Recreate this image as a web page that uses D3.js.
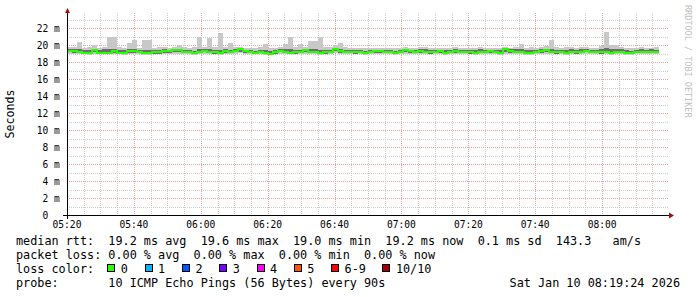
<!DOCTYPE html>
<html>
<head>
<meta charset="utf-8">
<script src="https://cdn.jsdelivr.net/npm/d3@7"></script>
<style>
  body { margin: 0; background: #fff; }
  svg text { font-family: "DejaVu Sans Mono", monospace; fill: #000; white-space: pre; }
</style>
</head>
<body>
<div id="chart"></div>
<script>
// one step = 90 s, first step at 05:20
const stepSec = 90;
const startTime = new Date(2026, 0, 10, 5, 20, 0);
const endTime = new Date(2026, 0, 10, 8, 20, 0);

// median rtt per step (ms)
const medRtt = [
  19.30,19.30,19.20,19.10,19.10,19.40,19.10,19.10,19.10,19.35,
  19.10,19.10,19.30,19.30,19.20,19.05,19.05,19.15,19.15,19.30,
  19.30,19.40,19.40,19.25,19.20,19.10,19.20,19.35,19.25,19.15,
  19.05,19.30,19.20,19.35,19.50,19.30,19.20,19.10,19.20,19.10,
  19.00,19.15,19.35,19.25,19.10,19.15,19.20,19.40,19.20,19.20,
  19.10,19.15,19.20,19.60,19.30,19.20,19.25,19.15,19.20,19.10,
  19.20,19.30,19.30,19.20,19.20,19.10,19.25,19.45,19.30,19.25,
  19.30,19.20,19.15,19.25,19.30,19.10,19.20,19.30,19.25,19.20,
  19.15,19.10,19.20,19.25,19.30,19.20,19.10,19.50,19.30,19.20,
  19.25,19.10,19.05,19.25,19.30,19.40,19.20,19.15,19.25,19.10,
  19.20,19.15,19.25,19.35,19.20,19.20,19.15,19.20,19.10,19.25,
  19.20,19.10,19.05,19.20,19.25,19.20,19.25,19.20
];
// fastest ping per step (ms)
const pingLo = [
  18.95,18.95,18.95,18.95,18.90,19.00,18.95,18.95,18.95,18.95,
  18.95,18.90,18.95,19.00,18.95,18.90,18.90,18.95,18.95,18.95,
  19.00,19.00,19.00,18.95,18.95,18.90,18.95,19.00,18.95,18.95,
  18.90,18.95,18.95,19.00,19.05,18.95,18.95,18.95,18.95,18.90,
  18.90,18.95,19.00,18.95,18.95,18.95,18.95,19.00,18.95,18.95,
  18.90,18.95,18.95,19.05,18.95,18.95,18.95,18.95,18.95,18.90,
  18.95,19.00,18.95,18.95,18.95,18.90,18.95,19.00,18.95,18.95,
  18.95,18.95,18.95,18.95,19.00,18.90,18.95,18.95,18.95,18.95,
  18.95,18.90,18.95,18.95,19.00,18.95,18.90,19.00,18.95,18.95,
  18.95,18.90,18.90,18.95,18.95,19.00,18.95,18.95,18.95,18.90,
  18.95,18.95,18.95,19.00,18.95,18.95,18.95,18.95,18.90,18.95,
  18.95,18.90,18.90,18.95,18.95,18.95,18.95,18.95
];
// lower edge of the dense smoke (ms)
const pingQ1 = [
  19.15,19.10,19.05,19.00,19.00,19.15,19.00,19.00,19.00,19.10,
  19.00,19.00,19.10,19.10,19.05,18.95,18.95,19.00,19.00,19.10,
  19.10,19.15,19.20,19.05,19.05,19.00,19.05,19.15,19.05,19.00,
  18.95,19.10,19.05,19.15,19.25,19.10,19.05,19.00,19.05,19.00,
  18.95,19.00,19.15,19.05,19.00,19.00,19.05,19.15,19.05,19.05,
  19.00,19.00,19.05,19.30,19.10,19.05,19.05,19.00,19.05,19.00,
  19.05,19.10,19.10,19.05,19.05,19.00,19.05,19.20,19.10,19.05,
  19.10,19.05,19.00,19.05,19.10,19.00,19.05,19.10,19.05,19.05,
  19.00,19.00,19.05,19.05,19.10,19.05,19.00,19.25,19.10,19.05,
  19.05,19.00,18.95,19.05,19.10,19.15,19.05,19.00,19.05,19.00,
  19.05,19.00,19.05,19.15,19.05,19.05,19.00,19.05,19.00,19.05,
  19.05,19.00,18.95,19.05,19.05,19.05,19.05,19.05
];
// upper edge of the dense smoke (ms)
const pingQ3 = [
  19.55,19.50,19.55,19.45,19.40,19.60,19.45,19.50,19.60,19.55,
  19.40,19.45,19.55,19.50,19.45,19.45,19.40,19.45,19.40,19.50,
  19.45,19.55,19.60,19.45,19.40,19.35,19.55,19.55,19.50,19.40,
  19.45,19.50,19.45,19.50,19.60,19.45,19.40,19.35,19.45,19.45,
  19.35,19.40,19.50,19.50,19.50,19.45,19.45,19.55,19.50,19.55,
  19.45,19.40,19.45,19.70,19.55,19.45,19.45,19.40,19.40,19.35,
  19.40,19.45,19.45,19.40,19.40,19.35,19.45,19.55,19.45,19.45,
  19.50,19.50,19.40,19.40,19.45,19.40,19.40,19.50,19.45,19.45,
  19.40,19.40,19.50,19.45,19.45,19.40,19.40,19.60,19.50,19.50,
  19.60,19.40,19.45,19.45,19.55,19.60,19.60,19.45,19.45,19.45,
  19.50,19.40,19.50,19.55,19.45,19.45,19.55,19.65,19.55,19.55,
  19.50,19.40,19.35,19.45,19.50,19.45,19.50,19.45
];
// slowest ping per step (ms)
const pingHi = [
  19.75,19.80,20.40,19.70,19.75,20.00,19.70,19.80,21.00,21.00,
  19.75,19.70,20.30,20.60,19.70,20.60,20.60,19.70,19.75,19.80,
  19.70,19.75,20.00,19.80,19.70,19.75,21.00,19.80,20.80,19.75,
  21.40,19.80,20.30,19.75,19.80,19.70,19.65,19.70,19.75,20.10,
  19.70,19.65,19.75,20.10,21.00,19.80,20.15,19.80,20.50,20.50,
  21.00,19.75,19.80,20.00,20.30,19.75,19.70,19.70,19.65,19.70,
  19.70,19.65,19.70,19.70,19.65,19.65,19.70,19.75,19.70,19.70,
  19.75,19.80,19.70,19.65,19.70,19.70,19.65,19.75,19.70,19.70,
  19.65,19.70,19.75,19.70,19.70,19.65,19.70,19.75,19.70,19.75,
  20.20,19.70,19.75,19.70,19.80,19.90,20.60,19.75,19.70,19.80,
  19.75,19.70,19.75,19.80,19.70,19.70,19.95,21.60,20.00,20.00,
  19.80,19.70,19.65,19.70,19.75,19.70,19.70,19.75
];

const yTicks = [0, 2, 4, 6, 8, 10, 12, 14, 16, 18, 20, 22];

const rttLine = "median rtt:  19.2 ms avg  19.6 ms max  19.0 ms min  19.2 ms now  0.1 ms sd  143.3   am/s";
const lossLine = "packet loss: 0.00 % avg  0.00 % max  0.00 % min  0.00 % now";
const lossLabels = ["0", "1", "2", "3", "4", "5", "6-9", "10/10"];
const lossColors = ["#26ff00", "#00b8ff", "#0059ff", "#7a00ff", "#ff00ff", "#ff5500", "#ff0000", "#a00000"];
const probeLine = "probe:       10 ICMP Echo Pings (56 Bytes) every 90s";
const stampText = "Sat Jan 10 08:19:24 2026";

// layout
let width = 697;
let height = 297;
let plotLeft = 67, plotRight = 669, plotTop = 13, plotBottom = 215;

let x = d3.scaleTime().domain([startTime, endTime]).range([plotLeft, plotRight]);
let y = d3.scaleLinear().domain([0, 23.8]).range([plotBottom, plotTop]);

let svg = d3.select("#chart").append("svg")
  .attr("width", width)
  .attr("height", height);

svg.append("rect").attr("width", width).attr("height", height).attr("fill", "#fff");

// grid
let grid = svg.append("g").attr("shape-rendering", "crispEdges");
let minutes = d3.range(5, 180, 5);
minutes.forEach(function(m) {
  let t = d3.timeMinute.offset(startTime, m);
  let px = Math.round(x(t)) + 0.5;
  grid.append("line")
    .attr("x1", px).attr("x2", px).attr("y1", plotTop).attr("y2", plotBottom)
    .attr("stroke", m % 20 === 0 ? "#e8a0a0" : "#cfcfcf")
    .attr("stroke-dasharray", "1,1");
});
d3.range(1, 24).forEach(function(v) {
  let py = Math.round(y(v)) + 0.5;
  grid.append("line")
    .attr("x1", plotLeft).attr("x2", plotRight).attr("y1", py).attr("y2", py)
    .attr("stroke", v % 2 === 0 ? "#e8a0a0" : "#cfcfcf")
    .attr("stroke-dasharray", "1,1");
});

// smoke + median
let steps = medRtt.map(function(d, i) {
  return {
    t: new Date(startTime.getTime() + i * stepSec * 1000),
    med: d, lo: pingLo[i], q1: pingQ1[i], q3: pingQ3[i], hi: pingHi[i]
  };
});
let last = steps[steps.length - 1];
steps.push(Object.assign({}, last, { t: new Date(last.t.getTime() + stepSec * 1000) }));

let plot = svg.append("g").attr("shape-rendering", "crispEdges");
plot.append("path")
  .datum(steps)
  .attr("fill", "#c8c8c8")
  .attr("d", d3.area().curve(d3.curveStepAfter)
    .x(function(d) { return x(d.t); })
    .y0(function(d) { return y(d.lo); })
    .y1(function(d) { return y(d.hi); }));
plot.append("path")
  .datum(steps)
  .attr("fill", "#6e6e6e")
  .attr("d", d3.area().curve(d3.curveStepAfter)
    .x(function(d) { return x(d.t); })
    .y0(function(d) { return y(d.q1); })
    .y1(function(d) { return y(d.q3); }));
plot.append("path")
  .datum(steps)
  .attr("fill", "none")
  .attr("stroke", lossColors[0])
  .attr("stroke-width", 2)
  .attr("d", d3.line().curve(d3.curveStepAfter)
    .x(function(d) { return x(d.t); })
    .y(function(d) { return y(d.med); }));

// axes
let axes = svg.append("g").attr("shape-rendering", "crispEdges");
axes.append("line").attr("x1", plotLeft - 4).attr("x2", plotRight + 1).attr("y1", plotBottom + 0.5).attr("y2", plotBottom + 0.5)
  .attr("stroke", "#000");
axes.append("line").attr("x1", plotLeft + 0.5).attr("x2", plotLeft + 0.5).attr("y1", plotTop - 1).attr("y2", plotBottom + 4)
  .attr("stroke", "#000");
svg.append("path").attr("fill", "#a01010")
  .attr("d", "M" + plotRight + "," + (plotBottom - 2.5) + "L" + (plotRight + 5) + "," + (plotBottom + 0.5) + "L" + plotRight + "," + (plotBottom + 3.5) + "Z");
svg.append("path").attr("fill", "#a01010")
  .attr("d", "M" + (plotLeft - 2) + "," + plotTop + "L" + (plotLeft + 0.5) + "," + (plotTop - 5) + "L" + (plotLeft + 3) + "," + plotTop + "Z");

// y labels
svg.append("g").selectAll("text")
  .data(yTicks)
  .enter().append("text")
  .attr("x", function(d) { return d === 0 ? 48.3 : 59.8; })
  .attr("y", function(d) { return y(d) + 3.6; })
  .attr("text-anchor", "end")
  .style("font-size", "9.6px")
  .text(function(d) { return d === 0 ? "0" : d + " m"; });

// x labels
let xTicks = d3.range(0, 180, 20).map(function(m) { return d3.timeMinute.offset(startTime, m); });
svg.append("g").selectAll("text")
  .data(xTicks)
  .enter().append("text")
  .attr("x", function(d) { return x(d); })
  .attr("y", 228)
  .attr("text-anchor", "middle")
  .style("font-size", "9.6px")
  .text(d3.timeFormat("%H:%M"));

// vertical titles
svg.append("text")
  .attr("transform", "translate(14,114) rotate(-90)")
  .attr("text-anchor", "middle")
  .style("font-size", "11.6px")
  .text("Seconds");
svg.append("text")
  .attr("transform", "translate(685,5) rotate(90)")
  .style("font-size", "8.5px")
  .style("fill", "#c0c0c0")
  .text("RRDTOOL / TOBI OETIKER");

// legend
let legend = svg.append("g").style("font-size", "11.8px");
legend.append("text").attr("x", 16).attr("y", 245).text(rttLine);
legend.append("text").attr("x", 16).attr("y", 259).text(lossLine);
legend.append("text").attr("x", 16).attr("y", 273).text("loss color:");
let bx = 107.3;
lossLabels.forEach(function(s, i) {
  legend.append("rect")
    .attr("x", Math.round(bx) + 0.5).attr("y", 264.5)
    .attr("width", 7).attr("height", 7)
    .attr("fill", lossColors[i]).attr("stroke", "#000")
    .attr("shape-rendering", "crispEdges");
  legend.append("text").attr("x", bx + 13.5).attr("y", 273).text(s);
  bx += 30.3 + 7 * s.length;
});
legend.append("text").attr("x", 16).attr("y", 287).text(probeLine);
legend.append("text").attr("x", 680).attr("y", 287).attr("text-anchor", "end").text(stampText);
</script>
</body>
</html>
